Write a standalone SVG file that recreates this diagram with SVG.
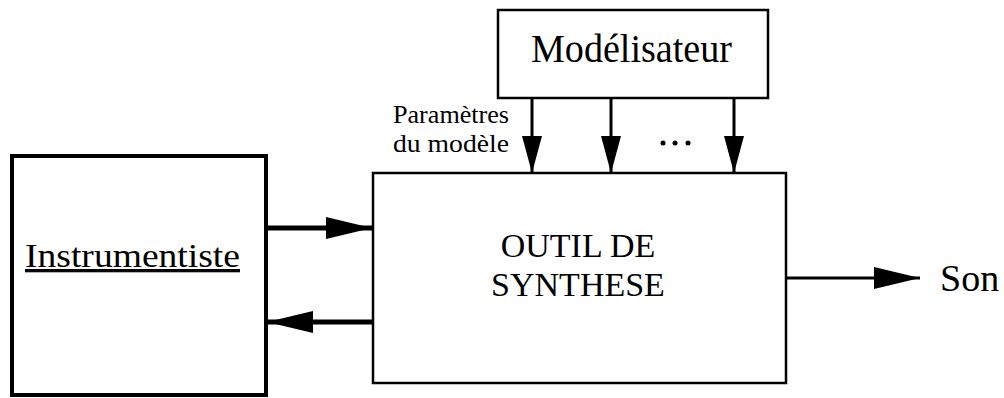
<svg xmlns="http://www.w3.org/2000/svg" width="1004" height="398" viewBox="0 0 1004 398">
<style>
text { font-family: "Liberation Serif", "Times New Roman", serif; fill: #000; }
.box { fill: #fff; stroke: #000; }
.line { stroke: #000; fill: none; }
</style>
<defs>
<marker id="ah" markerWidth="46" markerHeight="22" viewBox="0 0 46 22" refX="46" refY="11" orient="auto" markerUnits="userSpaceOnUse">
<path d="M0,0 L46,11 L0,22 Z" fill="#000"/>
</marker>
<marker id="av" markerWidth="37" markerHeight="20" viewBox="0 0 37 20" refX="37" refY="10" orient="auto" markerUnits="userSpaceOnUse">
<path d="M0,0 L37,10 L0,20 Z" fill="#000"/>
</marker>
</defs>
<rect width="1004" height="398" fill="#fff"/>
<g id="instrumentiste">
<rect class="box" x="12" y="156" width="254" height="239" stroke-width="4"/>
<text x="25" y="267" font-size="33" textLength="215" lengthAdjust="spacingAndGlyphs" text-decoration="underline">Instrumentiste</text>
</g>
<g id="outil">
<rect class="box" x="373" y="173" width="413" height="210" stroke-width="2.5"/>
<text x="578" y="257" font-size="34" text-anchor="middle">OUTIL DE</text>
<text x="578" y="296" font-size="34" text-anchor="middle">SYNTHESE</text>
</g>
<g id="modelisateur">
<rect class="box" x="498" y="10" width="270" height="88" stroke-width="2.5"/>
<text x="531" y="62" font-size="40" textLength="201" lengthAdjust="spacingAndGlyphs">Modélisateur</text>
</g>
<g id="son">
<text x="940" y="291" font-size="38">Son</text>
</g>
<g id="connectors">
<line class="line" x1="266" y1="228" x2="372" y2="228" stroke-width="5" marker-end="url(#ah)"/>
<line class="line" x1="373" y1="322" x2="267" y2="322" stroke-width="5" marker-end="url(#ah)"/>
<line class="line" x1="786" y1="278" x2="920" y2="278" stroke-width="3" marker-end="url(#ah)"/>
<line class="line" x1="532" y1="98" x2="532" y2="173" stroke-width="3" marker-end="url(#av)"/>
<line class="line" x1="611" y1="98" x2="611" y2="173" stroke-width="3" marker-end="url(#av)"/>
<line class="line" x1="734" y1="98" x2="734" y2="173" stroke-width="3" marker-end="url(#av)"/>
<text x="393" y="123" font-size="25" textLength="116" lengthAdjust="spacingAndGlyphs">Paramètres</text>
<text x="393" y="152" font-size="25" textLength="116" lengthAdjust="spacingAndGlyphs">du modèle</text>
<circle cx="663" cy="143" r="2.5" fill="#000"/>
<circle cx="675" cy="143" r="2.5" fill="#000"/>
<circle cx="688" cy="143" r="2.5" fill="#000"/>
</g>
</svg>
